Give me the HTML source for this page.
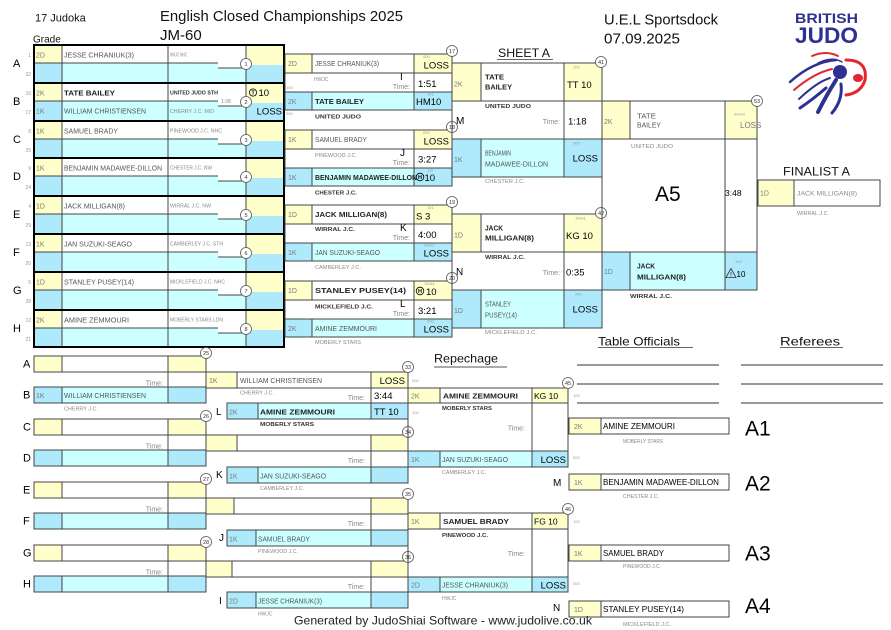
<!DOCTYPE html>
<html><head><meta charset="utf-8">
<style>
html,body{margin:0;padding:0;background:#fff;}
svg{display:block;}
text{font-family:"Liberation Sans",Arial,sans-serif;}
.n{font-size:7.5px;fill:#555;}
.b{font-size:7px;font-weight:bold;fill:#222;}
.c{font-size:5px;fill:#888;}
.cb{font-size:5px;font-weight:bold;fill:#333;}
.g{font-size:7px;fill:#777;}
.t{font-size:4px;fill:#999;}
.s{font-size:9.5px;fill:#000;}
.tm{font-size:7px;fill:#888;}
.L{font-size:11px;fill:#000;}
.l9{font-size:10px;fill:#000;}
.sd{font-size:5px;fill:#999;}
.cn{font-size:5.5px;fill:#333;}
.y{fill:#ffffcc;}
.w{fill:#fff;}
.bl{fill:#aeeafc;}
.cy{fill:#ccffff;}
.k{stroke:#444;stroke-width:1;fill:none;}
.kk{stroke:#000;stroke-width:2;fill:none;}
.ci{fill:#fff;stroke:#555;stroke-width:0.8;}
.rn{font-size:8.5px;fill:#000;}
.big{font-size:21px;fill:#000;}
.hd{font-size:12px;fill:#111;}
</style></head><body>
<svg width="891" height="630" viewBox="0 0 891 630" xmlns="http://www.w3.org/2000/svg">

<!-- HEADER -->
<text x="35" y="21.5" style="font-size:11px;fill:#111">17 Judoka</text>
<text x="33" y="42.5" style="font-size:10px;fill:#111">Grade</text>
<text x="160" y="21" style="font-size:15px;fill:#111" textLength="243" lengthAdjust="spacingAndGlyphs">English Closed Championships 2025</text>
<text x="160" y="40" style="font-size:15px;fill:#111">JM-60</text>
<text x="604" y="24.5" style="font-size:15px;fill:#111" textLength="114" lengthAdjust="spacingAndGlyphs">U.E.L Sportsdock</text>
<text x="604" y="43.5" style="font-size:15px;fill:#111" textLength="76" lengthAdjust="spacingAndGlyphs">07.09.2025</text>
<text x="498" y="57" class="hd" textLength="52" lengthAdjust="spacingAndGlyphs">SHEET A</text>
<line x1="497" y1="59.5" x2="553" y2="59.5" stroke="#666"/>

<!-- LOGO -->
<text x="795" y="23" style="font-size:14px;font-weight:bold;fill:#2e3192" textLength="63" lengthAdjust="spacingAndGlyphs">BRITISH</text>
<text x="795" y="43" style="font-size:22px;font-weight:bold;fill:#2e3192" textLength="63" lengthAdjust="spacingAndGlyphs">JUDO</text>
<g fill="none" stroke-linecap="round">
<path d="M790 82 Q812 62 836 60" stroke="#2e3192" stroke-width="2.5"/>
<path d="M794 90 Q814 73 832 69" stroke="#e3262f" stroke-width="2"/>
<path d="M799 99 Q817 82 830 78" stroke="#2e3192" stroke-width="2"/>
<path d="M812 56 Q826 50 838 56" stroke="#e3262f" stroke-width="2"/>
<path d="M818 63 Q832 56 842 62" stroke="#2e3192" stroke-width="1.5"/>
<path d="M846 60 Q868 60 865 80 Q861 93 846 95" stroke="#e3262f" stroke-width="3"/>
<path d="M836 80 Q826 96 818 112" stroke="#2e3192" stroke-width="4"/>
<path d="M841 84 Q843 100 832 113" stroke="#2e3192" stroke-width="3"/>
<path d="M826 88 Q812 100 800 108" stroke="#2e3192" stroke-width="3"/>
</g>
<circle cx="840" cy="72" r="7" fill="#2e3192"/>
<ellipse cx="858" cy="78" rx="5" ry="4" fill="#e3262f"/>

<!-- ROUND 1 -->
<g>
<!-- block rects -->
<g id="r1">
<rect x="34" y="45" width="28" height="18" class="y"/><rect x="62" y="45" width="184" height="18" class="w"/><rect x="246" y="45" width="38" height="20" class="y"/>
<rect x="34" y="63" width="28" height="20" class="bl"/><rect x="62" y="63" width="184" height="20" class="cy"/><rect x="246" y="65" width="38" height="18" class="bl"/>
<rect x="218" y="63" width="26" height="5" class="w"/>
<rect x="34" y="83" width="28" height="18" class="y"/><rect x="62" y="83" width="184" height="18" class="w"/><rect x="246" y="83" width="38" height="20" class="y"/>
<rect x="34" y="101" width="28" height="20" class="bl"/><rect x="62" y="101" width="184" height="20" class="cy"/><rect x="246" y="103" width="38" height="18" class="bl"/>
<rect x="218" y="96" width="26" height="10" class="w"/>
<rect x="34" y="121" width="28" height="18" class="y"/><rect x="62" y="121" width="184" height="18" class="w"/><rect x="246" y="121" width="38" height="20" class="y"/>
<rect x="34" y="139" width="28" height="19" class="bl"/><rect x="62" y="139" width="184" height="19" class="cy"/><rect x="246" y="141" width="38" height="17" class="bl"/>
<rect x="218" y="139" width="26" height="5" class="w"/>
<rect x="34" y="158" width="28" height="18" class="y"/><rect x="62" y="158" width="184" height="18" class="w"/><rect x="246" y="158" width="38" height="20" class="y"/>
<rect x="34" y="176" width="28" height="20" class="bl"/><rect x="62" y="176" width="184" height="20" class="cy"/><rect x="246" y="178" width="38" height="18" class="bl"/>
<rect x="218" y="176" width="26" height="5" class="w"/>
<rect x="34" y="196" width="28" height="18" class="y"/><rect x="62" y="196" width="184" height="18" class="w"/><rect x="246" y="196" width="38" height="20" class="y"/>
<rect x="34" y="214" width="28" height="20" class="bl"/><rect x="62" y="214" width="184" height="20" class="cy"/><rect x="246" y="216" width="38" height="18" class="bl"/>
<rect x="218" y="214" width="26" height="5" class="w"/>
<rect x="34" y="234" width="28" height="18" class="y"/><rect x="62" y="234" width="184" height="18" class="w"/><rect x="246" y="234" width="38" height="20" class="y"/>
<rect x="34" y="252" width="28" height="20" class="bl"/><rect x="62" y="252" width="184" height="20" class="cy"/><rect x="246" y="254" width="38" height="18" class="bl"/>
<rect x="218" y="252" width="26" height="5" class="w"/>
<rect x="34" y="272" width="28" height="18" class="y"/><rect x="62" y="272" width="184" height="18" class="w"/><rect x="246" y="272" width="38" height="20" class="y"/>
<rect x="34" y="290" width="28" height="20" class="bl"/><rect x="62" y="290" width="184" height="20" class="cy"/><rect x="246" y="292" width="38" height="18" class="bl"/>
<rect x="218" y="290" width="26" height="5" class="w"/>
<rect x="34" y="310" width="28" height="18" class="y"/><rect x="62" y="310" width="184" height="18" class="w"/><rect x="246" y="310" width="38" height="20" class="y"/>
<rect x="34" y="328" width="28" height="19" class="bl"/><rect x="62" y="328" width="184" height="19" class="cy"/><rect x="246" y="330" width="38" height="17" class="bl"/>
<rect x="218" y="328" width="26" height="5" class="w"/>
</g>
<!-- inner lines -->
<g class="k" stroke="#333">
<path d="M34 63H218M34 101H218M34 139H218M34 176H218M34 214H218M34 252H218M34 290H218M34 328H218"/>
<path d="M218 68H242M218 106H242M218 144H242M218 181H242M218 219H242M218 257H242M218 295H242M218 333H242"/>
<path d="M62 45V347M168 45V347M246 45V347"/>
</g>
<g class="kk">
<path d="M33 45H285M33 83H285M33 121H285M33 158H285M33 196H285M33 234H285M33 272H285M33 310H285M33 347H285"/>
<path d="M34 44V348M284 44V348"/>
</g>
<!-- circles -->
<g>
<circle cx="246" cy="64" r="5.5" class="ci"/><circle cx="246" cy="102" r="5.5" class="ci"/><circle cx="246" cy="140" r="5.5" class="ci"/><circle cx="246" cy="177" r="5.5" class="ci"/>
<circle cx="246" cy="215" r="5.5" class="ci"/><circle cx="246" cy="253" r="5.5" class="ci"/><circle cx="246" cy="291" r="5.5" class="ci"/><circle cx="246" cy="329" r="5.5" class="ci"/>
</g>
<g class="cn" text-anchor="middle">
<text x="246" y="66">1</text><text x="246" y="104">2</text><text x="246" y="142">3</text><text x="246" y="179">4</text>
<text x="246" y="217">5</text><text x="246" y="255">6</text><text x="246" y="293">7</text><text x="246" y="331">8</text>
</g>
<!-- letters -->
<g class="L">
<text x="13" y="67">A</text><text x="13" y="105">B</text><text x="13" y="143">C</text><text x="13" y="180">D</text>
<text x="13" y="218">E</text><text x="13" y="256">F</text><text x="13" y="294">G</text><text x="13" y="332">H</text>
</g>
<g class="sd" text-anchor="end">
<text x="31" y="57">1</text><text x="31" y="76">32</text>
<text x="31" y="95">16</text><text x="31" y="114">17</text>
<text x="31" y="133">8</text><text x="31" y="152">25</text>
<text x="31" y="170">9</text><text x="31" y="189">24</text>
<text x="31" y="208">4</text><text x="31" y="227">29</text>
<text x="31" y="246">13</text><text x="31" y="265">20</text>
<text x="31" y="284">5</text><text x="31" y="303">28</text>
<text x="31" y="322">12</text><text x="31" y="341">21</text>
</g>
<g class="g">
<text x="36" y="57.5">2D</text><text x="36" y="95.5">2K</text><text x="36" y="113.5">1K</text><text x="36" y="133.5">1K</text>
<text x="36" y="170.5">1K</text><text x="36" y="208.5">1D</text><text x="36" y="246.5">1K</text><text x="36" y="284.5">1D</text><text x="36" y="322.5">2K</text>
</g>
<text x="64" y="57.5" class="n" textLength="70" lengthAdjust="spacingAndGlyphs">JESSE CHRANIUK(3)</text>
<text x="64" y="95.5" class="b" textLength="51" lengthAdjust="spacingAndGlyphs">TATE BAILEY</text>
<text x="64" y="113.5" class="n" textLength="82" lengthAdjust="spacingAndGlyphs">WILLIAM CHRISTIENSEN</text>
<text x="64" y="133.5" class="n" textLength="54" lengthAdjust="spacingAndGlyphs">SAMUEL BRADY</text>
<text x="64" y="170.5" class="n" textLength="98" lengthAdjust="spacingAndGlyphs">BENJAMIN MADAWEE-DILLON</text>
<text x="64" y="208.5" class="n" textLength="61" lengthAdjust="spacingAndGlyphs">JACK MILLIGAN(8)</text>
<text x="64" y="246.5" class="n" textLength="68" lengthAdjust="spacingAndGlyphs">JAN SUZUKI-SEAGO</text>
<text x="64" y="284.5" class="n" textLength="70" lengthAdjust="spacingAndGlyphs">STANLEY PUSEY(14)</text>
<text x="64" y="322.5" class="n" textLength="65" lengthAdjust="spacingAndGlyphs">AMINE ZEMMOURI</text>
<text x="170" y="56.5" class="c" textLength="17" lengthAdjust="spacingAndGlyphs">HWJC NHC</text>
<text x="170" y="94.5" class="cb" textLength="48" lengthAdjust="spacingAndGlyphs">UNITED JUDO STH</text>
<text x="170" y="113" class="c" textLength="44" lengthAdjust="spacingAndGlyphs">CHERRY J.C. MID</text>
<text x="170" y="132.5" class="c" textLength="52" lengthAdjust="spacingAndGlyphs">PINEWOOD J.C. NHC</text>
<text x="170" y="169.5" class="c" textLength="42" lengthAdjust="spacingAndGlyphs">CHESTER J.C. NW</text>
<text x="170" y="207.5" class="c" textLength="41" lengthAdjust="spacingAndGlyphs">WIRRAL J.C. NW</text>
<text x="170" y="245.5" class="c" textLength="53" lengthAdjust="spacingAndGlyphs">CAMBERLEY J.C. STH</text>
<text x="170" y="283.5" class="c" textLength="55" lengthAdjust="spacingAndGlyphs">MICKLEFIELD J.C. NHC</text>
<text x="170" y="321.5" class="c" textLength="53" lengthAdjust="spacingAndGlyphs">MOBERLY STARS LDN</text>
<text x="221" y="103" class="c">1:38</text>
<circle cx="253" cy="92.5" r="3.6" fill="none" stroke="#000" stroke-width="0.8"/>
<text x="253" y="94.6" text-anchor="middle" style="font-size:5.5px;font-weight:bold;fill:#000">T</text>
<text x="258.5" y="96" class="s">10</text>
<text x="282" y="114.5" class="s" text-anchor="end">LOSS</text>
</g>

<!-- ROUND 2 -->
<g>
<!-- match 17 T=54 -->
<rect x="285" y="54" width="27" height="19" class="y"/><rect x="312" y="54" width="102" height="19" class="w"/><rect x="414" y="54" width="38" height="19" class="y"/>
<rect x="285" y="92" width="27" height="18" class="bl"/><rect x="312" y="92" width="102" height="18" class="cy"/><rect x="414" y="92" width="38" height="18" class="bl"/>
<!-- match 18 T=130 -->
<rect x="285" y="130" width="27" height="19" class="y"/><rect x="312" y="130" width="102" height="19" class="w"/><rect x="414" y="130" width="38" height="19" class="y"/>
<rect x="285" y="168" width="27" height="18" class="bl"/><rect x="312" y="168" width="102" height="18" class="cy"/><rect x="414" y="168" width="38" height="18" class="bl"/>
<!-- match 19 T=205 -->
<rect x="285" y="205" width="27" height="19" class="y"/><rect x="312" y="205" width="102" height="19" class="w"/><rect x="414" y="205" width="38" height="19" class="y"/>
<rect x="285" y="243" width="27" height="18" class="bl"/><rect x="312" y="243" width="102" height="18" class="cy"/><rect x="414" y="243" width="38" height="18" class="bl"/>
<!-- match 20 T=281 -->
<rect x="285" y="281" width="27" height="19" class="y"/><rect x="312" y="281" width="102" height="19" class="w"/><rect x="414" y="281" width="38" height="19" class="y"/>
<rect x="285" y="319" width="27" height="18" class="bl"/><rect x="312" y="319" width="102" height="18" class="cy"/><rect x="414" y="319" width="38" height="18" class="bl"/>
<g class="k" stroke="#555">
<rect x="285" y="54" width="167" height="56"/><path d="M285 73H452M285 92H452M312 54V73M312 92V110M414 54V110"/>
<rect x="285" y="130" width="167" height="56"/><path d="M285 149H452M285 168H452M312 130V149M312 168V186M414 130V186"/>
<rect x="285" y="205" width="167" height="56"/><path d="M285 224H452M285 243H452M312 205V224M312 243V261M414 205V261"/>
<rect x="285" y="281" width="167" height="56"/><path d="M285 300H452M285 319H452M312 281V300M312 319V337M414 281V337"/>
</g>
<circle cx="452" cy="51" r="5.5" class="ci"/><circle cx="452" cy="127" r="5.5" class="ci"/><circle cx="452" cy="202" r="5.5" class="ci"/><circle cx="452" cy="278" r="5.5" class="ci"/>
<g class="cn" text-anchor="middle"><text x="452" y="53">17</text><text x="452" y="129">18</text><text x="452" y="204">19</text><text x="452" y="280">20</text></g>

<!-- 17 text -->
<text x="288" y="66" class="g">2D</text>
<text x="315" y="66" class="n" textLength="64" lengthAdjust="spacingAndGlyphs">JESSE CHRANIUK(3)</text>
<text x="423" y="58" class="t">000</text>
<text x="449" y="68.5" class="s" text-anchor="end">LOSS</text>
<text x="314" y="81" class="c">HWJC</text>
<text x="400" y="80" class="l9">I</text>
<text x="410" y="89" class="tm" text-anchor="end">Time:</text>
<text x="418" y="87" class="s">1:51</text>
<text x="286" y="89" class="t">100</text>
<text x="288" y="104" class="g">2K</text>
<text x="315" y="104" class="b" textLength="49" lengthAdjust="spacingAndGlyphs">TATE BAILEY</text>
<text x="427" y="95.5" class="t">101</text>
<text x="416" y="105" class="s">HM10</text>
<text x="315" y="118.5" class="cb" textLength="46" lengthAdjust="spacingAndGlyphs">UNITED JUDO</text>
<text x="286" y="115" class="t">000</text>

<!-- 18 text -->
<text x="288" y="142" class="g">1K</text>
<text x="315" y="142" class="n" textLength="52" lengthAdjust="spacingAndGlyphs">SAMUEL BRADY</text>
<text x="423" y="134" class="t">000</text>
<text x="449" y="144.5" class="s" text-anchor="end">LOSS</text>
<text x="315" y="157" class="c" textLength="42" lengthAdjust="spacingAndGlyphs">PINEWOOD J.C.</text>
<text x="400" y="156" class="l9">J</text>
<text x="410" y="165" class="tm" text-anchor="end">Time:</text>
<text x="418" y="162.5" class="s">3:27</text>
<text x="288" y="180" class="g">1K</text>
<text x="315" y="180" class="b" textLength="102" lengthAdjust="spacingAndGlyphs">BENJAMIN MADAWEE-DILLON</text>
<text x="427" y="171.5" class="t">110</text>
<circle cx="420" cy="177" r="3.8" fill="none" stroke="#000" stroke-width="0.8"/>
<text x="420" y="179.2" text-anchor="middle" style="font-size:5.5px;font-weight:bold;fill:#000">H</text>
<text x="424.5" y="181" class="s">10</text>
<text x="315" y="194.5" class="cb" textLength="42" lengthAdjust="spacingAndGlyphs">CHESTER J.C.</text>

<!-- 19 text -->
<text x="288" y="217" class="g">1D</text>
<text x="315" y="217" class="b" textLength="72" lengthAdjust="spacingAndGlyphs">JACK MILLIGAN(8)</text>
<text x="427" y="209" class="t">101</text>
<text x="416" y="219.5" class="s">S 3</text>
<text x="315" y="231" class="cb" textLength="40" lengthAdjust="spacingAndGlyphs">WIRRAL J.C.</text>
<text x="400" y="231" class="l9">K</text>
<text x="410" y="240" class="tm" text-anchor="end">Time:</text>
<text x="418" y="238" class="s">4:00</text>
<text x="288" y="255" class="g">1K</text>
<text x="315" y="255" class="n" textLength="65" lengthAdjust="spacingAndGlyphs">JAN SUZUKI-SEAGO</text>
<text x="424" y="246.5" class="t">000x1</text>
<text x="449" y="256.5" class="s" text-anchor="end">LOSS</text>
<text x="315" y="269" class="c" textLength="46" lengthAdjust="spacingAndGlyphs">CAMBERLEY J.C.</text>

<!-- 20 text -->
<text x="288" y="293" class="g">1D</text>
<text x="315" y="293" class="b" textLength="91" lengthAdjust="spacingAndGlyphs">STANLEY PUSEY(14)</text>
<text x="424" y="285" class="t">100x1</text>
<circle cx="420" cy="291" r="3.8" fill="none" stroke="#000" stroke-width="0.8"/>
<text x="420" y="293.2" text-anchor="middle" style="font-size:5.5px;font-weight:bold;fill:#000">H</text>
<text x="426" y="295" class="s">10</text>
<text x="315" y="308.5" class="cb" textLength="58" lengthAdjust="spacingAndGlyphs">MICKLEFIELD J.C.</text>
<text x="400" y="307" class="l9">L</text>
<text x="410" y="316" class="tm" text-anchor="end">Time:</text>
<text x="418" y="314" class="s">3:21</text>
<text x="288" y="331" class="g">2K</text>
<text x="315" y="331" class="n" textLength="62" lengthAdjust="spacingAndGlyphs">AMINE ZEMMOURI</text>
<text x="427" y="322.5" class="t">000</text>
<text x="449" y="332.5" class="s" text-anchor="end">LOSS</text>
<text x="315" y="344" class="c" textLength="46" lengthAdjust="spacingAndGlyphs">MOBERLY STARS</text>
</g>

<!-- ROUND 3 -->
<g>
<rect x="452" y="63" width="29" height="38" class="y"/><rect x="481" y="63" width="83" height="38" class="w"/><rect x="564" y="63" width="38" height="38" class="y"/>
<rect x="452" y="139" width="29" height="38" class="bl"/><rect x="481" y="139" width="83" height="38" class="cy"/><rect x="564" y="139" width="38" height="38" class="bl"/>
<rect x="452" y="214" width="29" height="38" class="y"/><rect x="481" y="214" width="83" height="38" class="w"/><rect x="564" y="214" width="38" height="38" class="y"/>
<rect x="452" y="290" width="29" height="38" class="bl"/><rect x="481" y="290" width="83" height="38" class="cy"/><rect x="564" y="290" width="38" height="38" class="bl"/>
<g class="k" stroke="#555">
<rect x="452" y="63" width="150" height="114"/><path d="M452 101H602M452 139H602M481 63V101M481 139V177M564 63V177"/>
<rect x="452" y="214" width="150" height="114"/><path d="M452 252H602M452 290H602M481 214V252M481 290V328M564 214V328"/>
</g>
<circle cx="601" cy="62" r="5.5" class="ci"/><circle cx="601" cy="213" r="5.5" class="ci"/>
<g class="cn" text-anchor="middle"><text x="601" y="64">41</text><text x="601" y="215">42</text></g>

<text x="454" y="86.5" class="g">2K</text>
<text x="485" y="79.5" class="b" textLength="19" lengthAdjust="spacingAndGlyphs">TATE</text>
<text x="485" y="89.5" class="b" textLength="27" lengthAdjust="spacingAndGlyphs">BAILEY</text>
<text x="573" y="68.5" class="t">100</text>
<text x="567" y="88" class="s">TT 10</text>
<text x="485" y="108" class="cb" textLength="46" lengthAdjust="spacingAndGlyphs">UNITED JUDO</text>
<text x="456" y="124" class="l9">M</text>
<text x="560" y="124" class="tm" text-anchor="end">Time:</text>
<text x="568" y="124.5" class="s">1:18</text>
<text x="454" y="162" class="g">1K</text>
<text x="485" y="155.5" class="n" textLength="26" lengthAdjust="spacingAndGlyphs">BENJAMIN</text>
<text x="485" y="166.5" class="n" textLength="63" lengthAdjust="spacingAndGlyphs">MADAWEE-DILLON</text>
<text x="573" y="144.5" class="t">000</text>
<text x="598" y="161.5" class="s" text-anchor="end">LOSS</text>
<text x="485" y="183" class="c" textLength="40" lengthAdjust="spacingAndGlyphs">CHESTER J.C.</text>

<text x="454" y="237.5" class="g">1D</text>
<text x="485" y="230.5" class="b" textLength="18" lengthAdjust="spacingAndGlyphs">JACK</text>
<text x="485" y="240.5" class="b" textLength="49" lengthAdjust="spacingAndGlyphs">MILLIGAN(8)</text>
<text x="575" y="219.5" class="t">100x1</text>
<text x="566" y="239" class="s">KG 10</text>
<text x="485" y="259" class="cb" textLength="40" lengthAdjust="spacingAndGlyphs">WIRRAL J.C.</text>
<text x="456" y="275" class="l9">N</text>
<text x="560" y="275" class="tm" text-anchor="end">Time:</text>
<text x="566" y="275.5" class="s">0:35</text>
<text x="454" y="313" class="g">1D</text>
<text x="485" y="306.5" class="n" textLength="26" lengthAdjust="spacingAndGlyphs">STANLEY</text>
<text x="485" y="317.5" class="n" textLength="32" lengthAdjust="spacingAndGlyphs">PUSEY(14)</text>
<text x="575" y="295.5" class="t">000</text>
<text x="598" y="312.5" class="s" text-anchor="end">LOSS</text>
<text x="485" y="334" class="c" textLength="52" lengthAdjust="spacingAndGlyphs">MICKLEFIELD J.C.</text>
</g>

<!-- FINAL -->
<g>
<rect x="602" y="101" width="28" height="38" class="y"/><rect x="630" y="101" width="95" height="38" class="w"/><rect x="725" y="101" width="32" height="38" class="y"/>
<rect x="602" y="252" width="28" height="38" class="bl"/><rect x="630" y="252" width="95" height="38" class="cy"/><rect x="725" y="252" width="32" height="38" class="bl"/>
<g class="k" stroke="#222">
<rect x="602" y="101" width="155" height="189"/><path d="M602 139H757M602 252H757M630 101V139M630 252V290M725 101V290"/>
</g>
<circle cx="757" cy="101" r="5.5" class="ci"/>
<text x="757" y="103" class="cn" text-anchor="middle">53</text>
<text x="604" y="124" class="g">2K</text>
<text x="637" y="118.5" class="n" textLength="19" lengthAdjust="spacingAndGlyphs">TATE</text>
<text x="637" y="127.5" class="n" textLength="24" lengthAdjust="spacingAndGlyphs">BAILEY</text>
<text x="734" y="115.5" class="t">000x3</text>
<text x="740" y="128" style="font-size:8px;fill:#777">LOSS</text>
<text x="631" y="148" class="c" textLength="42" lengthAdjust="spacingAndGlyphs">UNITED JUDO</text>
<text x="655" y="201" class="big">A5</text>
<text x="725" y="196" style="font-size:8.5px;fill:#000">3:48</text>
<text x="604" y="274" class="g">1D</text>
<text x="637" y="268.5" class="b" textLength="18" lengthAdjust="spacingAndGlyphs">JACK</text>
<text x="637" y="279.5" class="b" textLength="49" lengthAdjust="spacingAndGlyphs">MILLIGAN(8)</text>
<text x="735" y="263" class="t">100</text>
<path d="M726 277.5L731 268.5L736 277.5Z" fill="none" stroke="#333" stroke-width="0.8"/>
<text x="731" y="276.5" text-anchor="middle" style="font-size:6px;font-weight:bold;fill:#333">!</text>
<text x="736.5" y="277" style="font-size:8px;fill:#000">10</text>
<text x="630" y="298" class="cb" textLength="42" lengthAdjust="spacingAndGlyphs">WIRRAL J.C.</text>

<text x="783" y="175.5" class="hd" textLength="67" lengthAdjust="spacingAndGlyphs">FINALIST A</text>
<rect x="758" y="180" width="36" height="26" class="y"/><rect x="794" y="180" width="86" height="26" class="w"/>
<g class="k" stroke="#333"><rect x="758" y="180" width="122" height="26"/><path d="M794 180V206"/></g>
<text x="760" y="195.5" class="g">1D</text>
<text x="797" y="195.5" style="font-size:6px;fill:#888" textLength="60" lengthAdjust="spacingAndGlyphs">JACK MILLIGAN(8)</text>
<text x="797" y="215" class="c" textLength="32" lengthAdjust="spacingAndGlyphs">WIRRAL J.C.</text>
</g>

<!-- OFFICIALS -->
<text x="598" y="345.5" class="hd" textLength="82" lengthAdjust="spacingAndGlyphs">Table Officials</text>
<line x1="598" y1="347.5" x2="693" y2="347.5" stroke="#666"/>
<text x="780" y="345.5" class="hd" textLength="60" lengthAdjust="spacingAndGlyphs">Referees</text>
<line x1="780" y1="347.5" x2="843" y2="347.5" stroke="#666"/>
<g stroke="#333" stroke-width="1">
<path d="M577 365H719M577 384H719M577 403H719M741 365H883M741 384H883M741 403H883"/>
</g>
<text x="434" y="362.5" class="hd" textLength="64" lengthAdjust="spacingAndGlyphs">Repechage</text>
<line x1="434" y1="367" x2="507" y2="367" stroke="#555"/>

<!-- REPECHAGE LEFT -->
<g>
<rect x="34" y="356" width="28" height="16" class="y"/><rect x="62" y="356" width="106" height="16" class="w"/><rect x="168" y="356" width="38" height="16" class="y"/>
<rect x="34" y="387" width="28" height="16" class="bl"/><rect x="62" y="387" width="106" height="16" class="cy"/><rect x="168" y="387" width="38" height="16" class="bl"/>
<rect x="34" y="419" width="28" height="16" class="y"/><rect x="62" y="419" width="106" height="16" class="w"/><rect x="168" y="419" width="38" height="16" class="y"/>
<rect x="34" y="450" width="28" height="16" class="bl"/><rect x="62" y="450" width="106" height="16" class="cy"/><rect x="168" y="450" width="38" height="16" class="bl"/>
<rect x="34" y="482" width="28" height="16" class="y"/><rect x="62" y="482" width="106" height="16" class="w"/><rect x="168" y="482" width="38" height="16" class="y"/>
<rect x="34" y="513" width="28" height="16" class="bl"/><rect x="62" y="513" width="106" height="16" class="cy"/><rect x="168" y="513" width="38" height="16" class="bl"/>
<rect x="34" y="545" width="28" height="16" class="y"/><rect x="62" y="545" width="106" height="16" class="w"/><rect x="168" y="545" width="38" height="16" class="y"/>
<rect x="34" y="576" width="28" height="16" class="bl"/><rect x="62" y="576" width="106" height="16" class="cy"/><rect x="168" y="576" width="38" height="16" class="bl"/>
<g class="k" stroke="#222">
<rect x="34" y="356" width="172" height="16"/><rect x="34" y="387" width="172" height="16"/><path d="M62 356V372M62 387V403M168 356V403M206 353V403"/>
<rect x="34" y="419" width="172" height="16"/><rect x="34" y="450" width="172" height="16"/><path d="M62 419V435M62 450V466M168 419V466M206 416V466"/>
<rect x="34" y="482" width="172" height="16"/><rect x="34" y="513" width="172" height="16"/><path d="M62 482V498M62 513V529M168 482V529M206 479V529"/>
<rect x="34" y="545" width="172" height="16"/><rect x="34" y="576" width="172" height="16"/><path d="M62 545V561M62 576V592M168 545V592M206 542V592"/>
</g>
<circle cx="206" cy="353" r="5.5" class="ci"/><circle cx="206" cy="416" r="5.5" class="ci"/><circle cx="206" cy="479" r="5.5" class="ci"/><circle cx="206" cy="542" r="5.5" class="ci"/>
<g class="cn" text-anchor="middle"><text x="206" y="355">25</text><text x="206" y="418">26</text><text x="206" y="481">27</text><text x="206" y="544">28</text></g>
<g class="L">
<text x="23" y="367.5">A</text><text x="23" y="398.5">B</text><text x="23" y="430.5">C</text><text x="23" y="461.5">D</text>
<text x="23" y="493.5">E</text><text x="23" y="524.5">F</text><text x="23" y="556.5">G</text><text x="23" y="587.5">H</text>
</g>
<g class="tm" text-anchor="end">
<text x="163" y="385.5">Time:</text><text x="163" y="448.5">Time:</text><text x="163" y="511.5">Time:</text><text x="163" y="574.5">Time:</text>
</g>
<text x="36" y="398" class="g">1K</text>
<text x="64" y="398" class="n" textLength="82" lengthAdjust="spacingAndGlyphs">WILLIAM CHRISTIENSEN</text>
<text x="64" y="410.5" class="c" textLength="34" lengthAdjust="spacingAndGlyphs">CHERRY J.C.</text>
</g>

<!-- REPECHAGE ROUND 2 -->
<g>
<rect x="206" y="372" width="31" height="16" class="y"/><rect x="237" y="372" width="134" height="16" class="w"/><rect x="371" y="372" width="37" height="16" class="y"/>
<rect x="227" y="403" width="31" height="16" class="bl"/><rect x="258" y="403" width="113" height="16" class="cy"/><rect x="371" y="403" width="37" height="16" class="bl"/>
<rect x="206" y="435" width="31" height="16" class="y"/><rect x="237" y="435" width="134" height="16" class="w"/><rect x="371" y="435" width="37" height="16" class="y"/>
<rect x="227" y="467" width="31" height="16" class="bl"/><rect x="258" y="467" width="113" height="16" class="cy"/><rect x="371" y="467" width="37" height="16" class="bl"/>
<rect x="206" y="498" width="28" height="16" class="y"/><rect x="234" y="498" width="137" height="16" class="w"/><rect x="371" y="498" width="37" height="16" class="y"/>
<rect x="227" y="530" width="29" height="16" class="bl"/><rect x="256" y="530" width="115" height="16" class="cy"/><rect x="371" y="530" width="37" height="16" class="bl"/>
<rect x="206" y="561" width="26" height="16" class="y"/><rect x="232" y="561" width="139" height="16" class="w"/><rect x="371" y="561" width="37" height="16" class="y"/>
<rect x="227" y="592" width="29" height="16" class="bl"/><rect x="256" y="592" width="115" height="16" class="cy"/><rect x="371" y="592" width="37" height="16" class="bl"/>
<g class="k" stroke="#333">
<rect x="206" y="372" width="202" height="16"/><rect x="227" y="403" width="181" height="16"/><path d="M237 372V388M258 403V419M371 372V419"/>
<rect x="206" y="435" width="202" height="16"/><rect x="227" y="467" width="181" height="16"/><path d="M237 435V451M258 467V483M371 435V483"/>
<rect x="206" y="498" width="202" height="16"/><rect x="227" y="530" width="181" height="16"/><path d="M234 498V514M256 530V546M371 498V546"/>
<rect x="206" y="561" width="202" height="16"/><rect x="227" y="592" width="181" height="16"/><path d="M232 561V577M256 592V608M371 561V608"/>
<path d="M408 367V483M408 494V608"/>
</g>
<circle cx="408" cy="367" r="5.5" class="ci"/><circle cx="408" cy="432" r="5.5" class="ci"/><circle cx="408" cy="494" r="5.5" class="ci"/><circle cx="408" cy="557" r="5.5" class="ci"/>
<g class="cn" text-anchor="middle"><text x="408" y="369">33</text><text x="408" y="434">34</text><text x="408" y="496">35</text><text x="408" y="559">36</text></g>
<g class="tm" text-anchor="end">
<text x="365" y="400">Time:</text><text x="365" y="463">Time:</text><text x="365" y="526">Time:</text><text x="365" y="589">Time:</text>
</g>
<g class="l9">
<text x="216" y="415">L</text><text x="216" y="478">K</text><text x="219" y="541">J</text><text x="219" y="604">I</text>
</g>
<!-- 33 -->
<text x="209" y="383" class="g">1K</text>
<text x="240" y="383" class="n" textLength="82" lengthAdjust="spacingAndGlyphs">WILLIAM CHRISTIENSEN</text>
<text x="405" y="384" class="s" text-anchor="end">LOSS</text>
<text x="240" y="394.5" class="c" textLength="34" lengthAdjust="spacingAndGlyphs">CHERRY J.C.</text>
<text x="374" y="399" class="s">3:44</text>
<text x="229" y="414.5" class="g">2K</text>
<text x="260" y="414.5" class="b" textLength="75" lengthAdjust="spacingAndGlyphs">AMINE ZEMMOURI</text>
<text x="374" y="415" class="s">TT 10</text>
<text x="260" y="426" class="cb" textLength="54" lengthAdjust="spacingAndGlyphs">MOBERLY STARS</text>
<text x="412" y="382" class="t">000</text>
<text x="412" y="414" class="t">100</text>
<!-- 34 -->
<text x="229" y="478.5" class="g">1K</text>
<text x="260" y="478.5" class="n" textLength="66" lengthAdjust="spacingAndGlyphs">JAN SUZUKI-SEAGO</text>
<text x="260" y="490" class="c" textLength="44" lengthAdjust="spacingAndGlyphs">CAMBERLEY J.C.</text>
<!-- 35 -->
<text x="229" y="541.5" class="g">1K</text>
<text x="258" y="541.5" class="n" textLength="52" lengthAdjust="spacingAndGlyphs">SAMUEL BRADY</text>
<text x="258" y="553" class="c" textLength="40" lengthAdjust="spacingAndGlyphs">PINEWOOD J.C.</text>
<!-- 36 -->
<text x="229" y="603.5" class="g">2D</text>
<text x="258" y="603.5" class="n" textLength="64" lengthAdjust="spacingAndGlyphs">JESSE CHRANIUK(3)</text>
<text x="258" y="615.5" class="c">HWJC</text>
</g>

<!-- REPECHAGE ROUND 3 -->
<g>
<rect x="408" y="388" width="32" height="15" class="y"/><rect x="440" y="388" width="92" height="15" class="w"/><rect x="532" y="388" width="36" height="15" class="y"/>
<rect x="408" y="451" width="32" height="16" class="bl"/><rect x="440" y="451" width="92" height="16" class="cy"/><rect x="532" y="451" width="36" height="16" class="bl"/>
<rect x="408" y="513" width="32" height="16" class="y"/><rect x="440" y="513" width="92" height="16" class="w"/><rect x="532" y="513" width="36" height="16" class="y"/>
<rect x="408" y="577" width="32" height="15" class="bl"/><rect x="440" y="577" width="92" height="15" class="cy"/><rect x="532" y="577" width="36" height="15" class="bl"/>
<g class="k" stroke="#444">
<rect x="408" y="388" width="160" height="79"/><path d="M408 403H568M408 451H568M440 388V403M440 451V467M532 388V467"/>
<rect x="408" y="513" width="160" height="79"/><path d="M408 529H568M408 577H568M440 513V529M440 577V592M532 513V592"/>
</g>
<circle cx="568" cy="383" r="5.5" class="ci"/><circle cx="568" cy="509" r="5.5" class="ci"/>
<g class="cn" text-anchor="middle"><text x="568" y="385">45</text><text x="568" y="511">46</text></g>
<text x="411" y="398.5" class="g">2K</text>
<text x="443" y="398.5" class="b" textLength="75" lengthAdjust="spacingAndGlyphs">AMINE ZEMMOURI</text>
<text x="534" y="399" style="font-size:8.5px;fill:#000">KG 10</text>
<text x="442" y="410" class="cb" textLength="50" lengthAdjust="spacingAndGlyphs">MOBERLY STARS</text>
<text x="525" y="430.5" class="tm" text-anchor="end">Time:</text>
<text x="411" y="462" class="g">1K</text>
<text x="442" y="462" class="n" textLength="66" lengthAdjust="spacingAndGlyphs">JAN SUZUKI-SEAGO</text>
<text x="566" y="463" class="s" text-anchor="end">LOSS</text>
<text x="442" y="474" class="c" textLength="44" lengthAdjust="spacingAndGlyphs">CAMBERLEY J.C.</text>

<text x="411" y="524" class="g">1K</text>
<text x="443" y="524" class="b" textLength="66" lengthAdjust="spacingAndGlyphs">SAMUEL BRADY</text>
<text x="534" y="524.5" style="font-size:8.5px;fill:#000">FG 10</text>
<text x="442" y="537" class="cb" textLength="46" lengthAdjust="spacingAndGlyphs">PINEWOOD J.C.</text>
<text x="525" y="556" class="tm" text-anchor="end">Time:</text>
<text x="411" y="587.5" class="g">2D</text>
<text x="442" y="587.5" class="n" textLength="66" lengthAdjust="spacingAndGlyphs">JESSE CHRANIUK(3)</text>
<text x="566" y="588.5" class="s" text-anchor="end">LOSS</text>
<text x="442" y="600" class="c">HWJC</text>

<text x="573" y="397" class="t">100</text>
<text x="573" y="459" class="t">000</text>
<text x="573" y="523" class="t">100</text>
<text x="573" y="585" class="t">000</text>
</g>

<!-- RESULTS -->
<g>
<rect x="569" y="418" width="32" height="16" class="y"/><rect x="601" y="418" width="128" height="16" class="w"/>
<rect x="569" y="474" width="32" height="16" class="y"/><rect x="601" y="474" width="128" height="16" class="w"/>
<rect x="569" y="545" width="32" height="16" class="y"/><rect x="601" y="545" width="128" height="16" class="w"/>
<rect x="569" y="601" width="32" height="16" class="y"/><rect x="601" y="601" width="128" height="16" class="w"/>
<g class="k" stroke="#444">
<rect x="569" y="418" width="160" height="16"/><path d="M601 418V434"/>
<rect x="569" y="474" width="160" height="16"/><path d="M601 474V490"/>
<rect x="569" y="545" width="160" height="16"/><path d="M601 545V561"/>
<rect x="569" y="601" width="160" height="16"/><path d="M601 601V617"/>
</g>
<text x="574" y="429" class="g">2K</text>
<text x="603" y="429" class="rn" textLength="72" lengthAdjust="spacingAndGlyphs">AMINE ZEMMOURI</text>
<text x="623" y="443" class="c" textLength="40" lengthAdjust="spacingAndGlyphs">MOBERLY STARS</text>
<text x="745" y="435.5" class="big">A1</text>
<text x="553" y="486" class="l9">M</text>
<text x="574" y="485" class="g">1K</text>
<text x="603" y="485" class="rn" textLength="116" lengthAdjust="spacingAndGlyphs">BENJAMIN MADAWEE-DILLON</text>
<text x="623" y="498" class="c" textLength="36" lengthAdjust="spacingAndGlyphs">CHESTER J.C.</text>
<text x="745" y="490.5" class="big">A2</text>
<text x="574" y="556" class="g">1K</text>
<text x="603" y="556" class="rn" textLength="61" lengthAdjust="spacingAndGlyphs">SAMUEL BRADY</text>
<text x="623" y="568" class="c" textLength="38" lengthAdjust="spacingAndGlyphs">PINEWOOD J.C.</text>
<text x="745" y="560.5" class="big">A3</text>
<text x="553" y="611" class="l9">N</text>
<text x="574" y="612" class="g">1D</text>
<text x="603" y="612" class="rn" textLength="81" lengthAdjust="spacingAndGlyphs">STANLEY PUSEY(14)</text>
<text x="623" y="626" class="c" textLength="48" lengthAdjust="spacingAndGlyphs">MICKLEFIELD J.C.</text>
<text x="745" y="613" class="big">A4</text>
</g>

<!-- FOOTER -->
<text x="294" y="624.5" style="font-size:12px;fill:#222" textLength="298" lengthAdjust="spacingAndGlyphs">Generated by JudoShiai Software - www.judolive.co.uk</text>
</svg>
</body></html>
